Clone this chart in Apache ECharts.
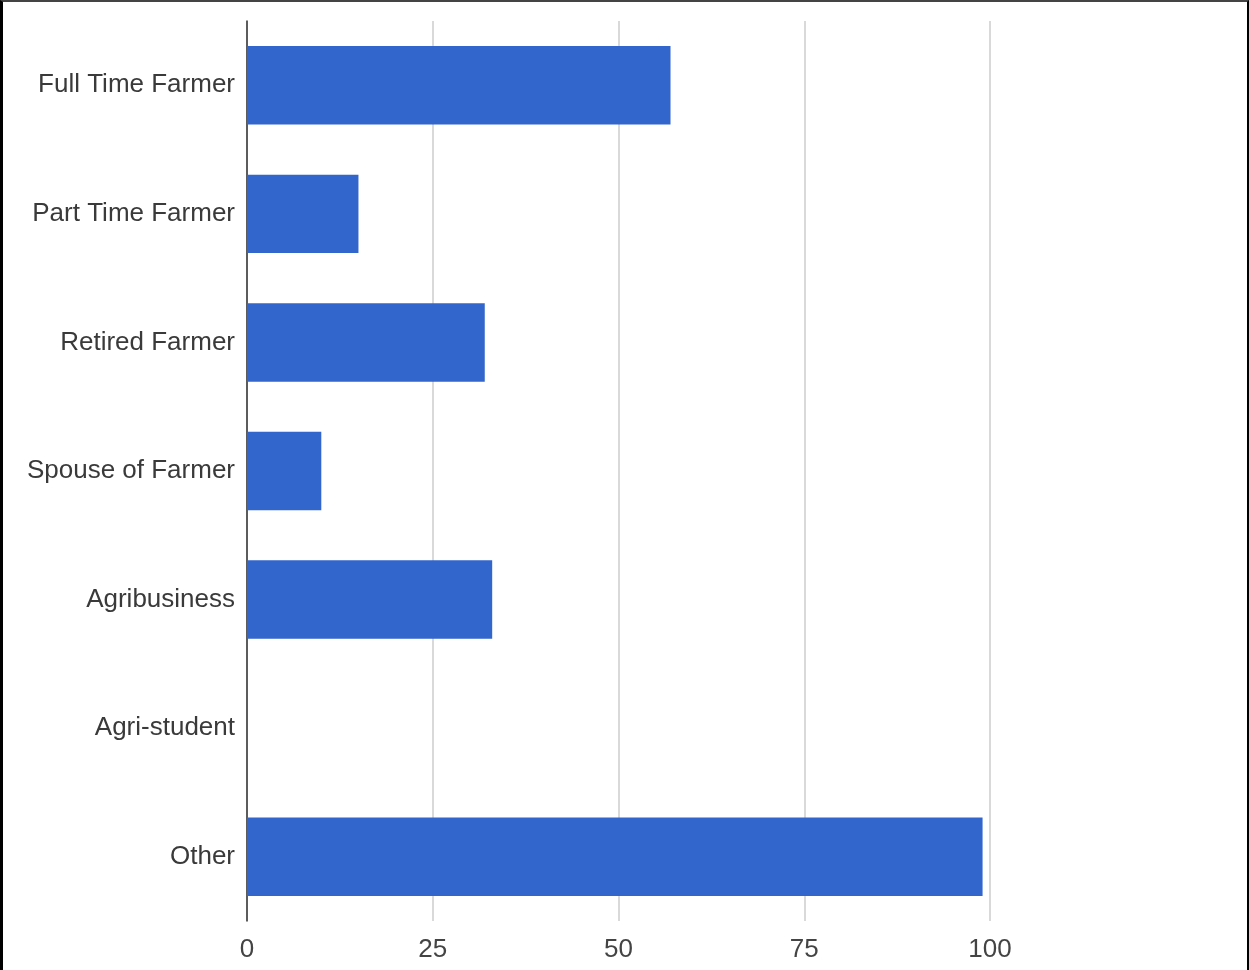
<!DOCTYPE html>
<html>
<head>
<meta charset="utf-8">
<style>
  html, body { margin: 0; padding: 0; background: #fff; }
  #frame {
    position: absolute; left: 0; top: 0; width: 1249px; height: 970px;
    box-sizing: border-box;
    border-left: 3px solid #000; border-right: 2px solid #000; border-top: 2px solid #444;
  }
  #chart { position: absolute; left: 0; top: 0; width: 1249px; height: 970px; }
</style>
<script src="https://cdn.jsdelivr.net/npm/echarts@6/dist/echarts.min.js"></script>
</head>
<body>
<div id="chart"></div>
<div id="frame"></div>
<script>
// Respondent roles and their counts
const categories = ['Full Time Farmer', 'Part Time Farmer', 'Retired Farmer', 'Spouse of Farmer', 'Agribusiness', 'Agri-student', 'Other'];
const counts = [57, 15, 32, 10, 33, 0, 99];
const axisMax = 100;
const axisStep = 25;

const labelFont = '"Liberation Sans", Arial, sans-serif';

const chart = echarts.init(document.getElementById('chart'), null, { renderer: 'canvas' });
chart.setOption({
  animation: false,
  grid: { left: 247, right: 259, top: 21, bottom: 49, containLabel: false },
  xAxis: {
    type: 'value',
    min: 0,
    max: axisMax,
    interval: axisStep,
    axisLine: { show: false },
    axisTick: { show: false },
    axisLabel: {
      color: '#444', fontSize: 26, fontFamily: labelFont, margin: 16
    },
    splitLine: { show: true, lineStyle: { color: '#cccccc', width: 1.5 } }
  },
  yAxis: {
    type: 'category',
    data: categories,
    inverse: true,
    axisLine: { show: true, lineStyle: { color: '#333333', width: 1.5 } },
    axisTick: { show: false },
    axisLabel: {
      color: '#3a3a3a', fontSize: 26, fontFamily: labelFont, margin: 12,
      padding: [4, 0, 0, 0]
    },
    splitLine: { show: false }
  },
  series: [{
    type: 'bar',
    data: counts,
    barCategoryGap: '39%',
    itemStyle: { color: '#3366cc' }
  }]
});
</script>
</body>
</html>
